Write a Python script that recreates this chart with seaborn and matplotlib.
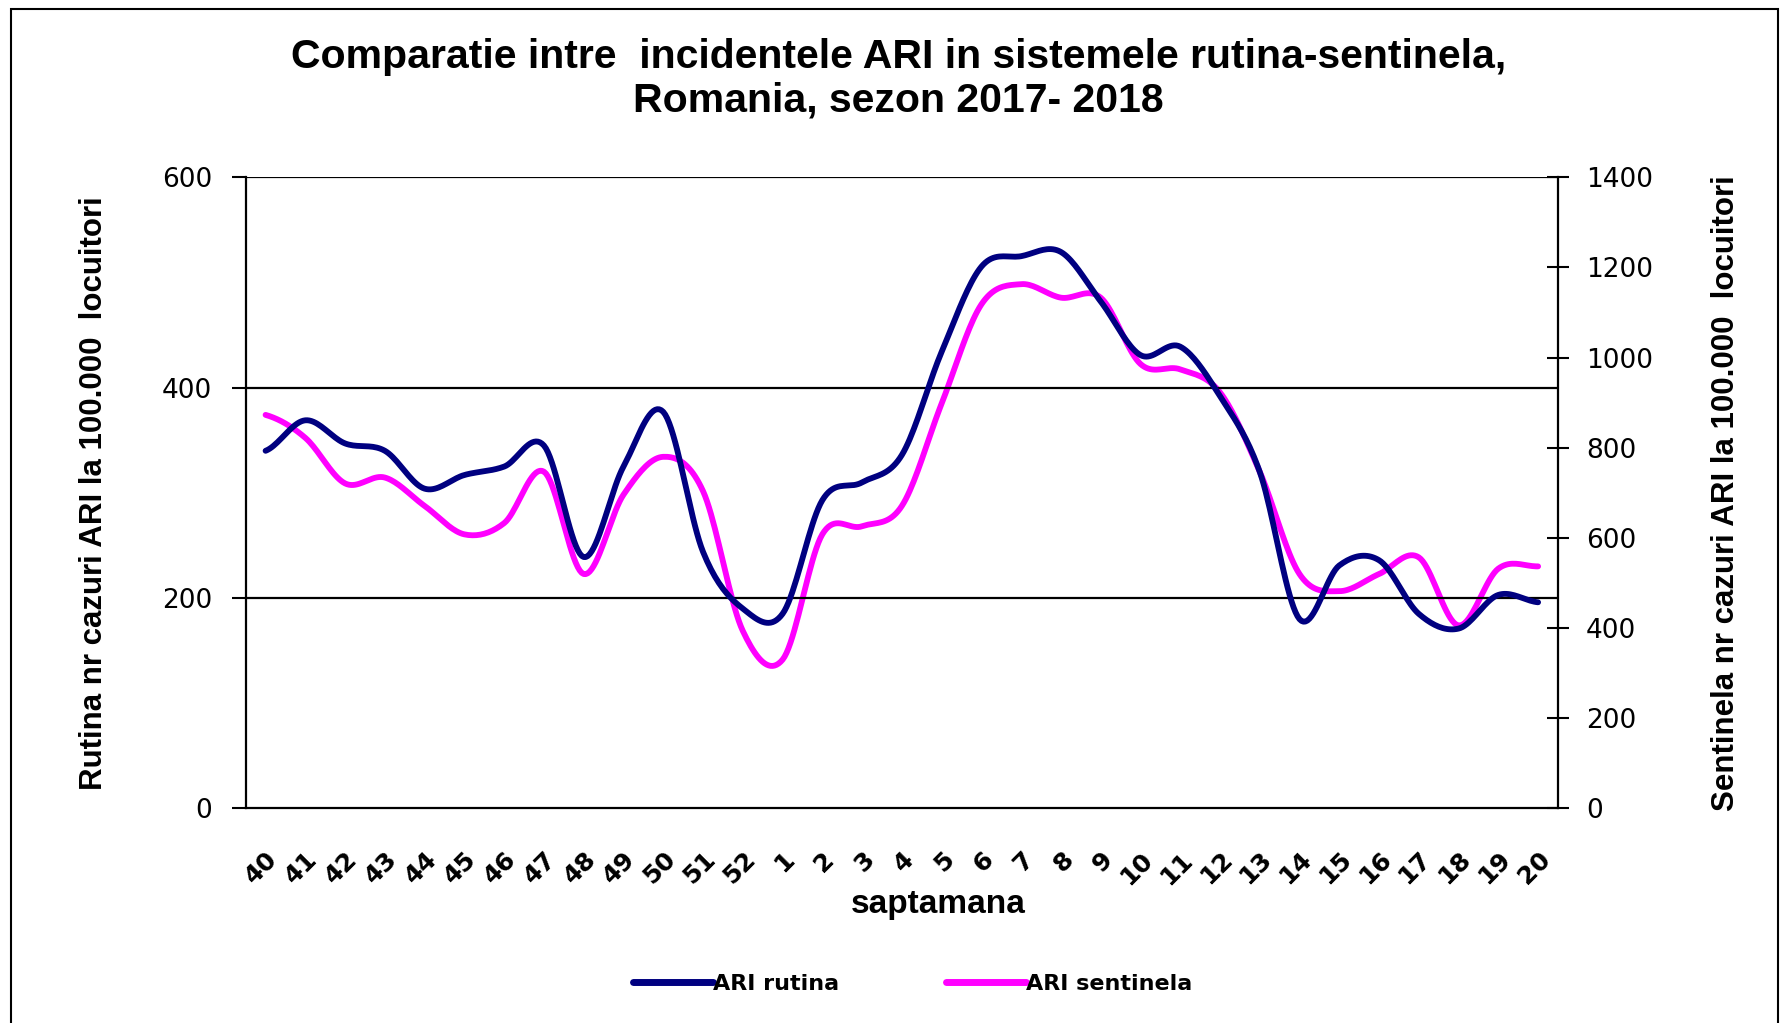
import numpy as np
import pandas as pd
import matplotlib
matplotlib.use('Agg')
import matplotlib.pyplot as plt
import seaborn as sns

# saptamani (sezon 2017-2018)
weeks = ['40', '41', '42', '43', '44', '45', '46', '47', '48', '49', '50', '51', '52',
         '1', '2', '3', '4', '5', '6', '7', '8', '9', '10', '11', '12', '13', '14',
         '15', '16', '17', '18', '19', '20']
# incidenta ARI rutina (axa stanga)
rutina = [340, 369, 347, 340, 304, 317, 325, 345, 239, 325, 377, 244, 190,
          185, 293, 310, 336, 434, 515, 525, 529, 482, 431, 439, 392, 320, 180,
          231, 236, 185, 171, 203, 196]
# incidenta ARI sentinela (axa dreapta)
sentinela = [873, 822, 721, 734, 671, 608, 633, 747, 520, 696, 780, 704, 394,
             330, 608, 626, 671, 898, 1118, 1163, 1133, 1133, 986, 974, 923, 747, 520,
             482, 520, 557, 406, 532, 537]

left_ticks = [0, 200, 400, 600]
right_ticks = [0, 200, 400, 600, 800, 1000, 1200, 1400]

NAVY = '#000080'
MAGENTA = '#FF00FF'


def smooth(y, n=20):
    # curba neteda tip Excel (Catmull-Rom) prin punctele citite
    y = np.asarray(y, float)
    p = np.concatenate([[y[0]], y, [y[-1]]])
    xs, ys = [], []
    for i in range(len(y) - 1):
        p0, p1, p2, p3 = p[i], p[i + 1], p[i + 2], p[i + 3]
        t = np.linspace(0, 1, n, endpoint=False)
        yy = 0.5 * (2 * p1 + (-p0 + p2) * t + (2 * p0 - 5 * p1 + 4 * p2 - p3) * t ** 2
                    + (-p0 + 3 * p1 - 3 * p2 + p3) * t ** 3)
        xs.append(i + t)
        ys.append(yy)
    xs.append([len(y) - 1])
    ys.append([y[-1]])
    return np.concatenate(xs), np.concatenate(ys)


sns.set_style('white')
plt.rcParams['font.family'] = ['Liberation Sans', 'DejaVu Sans']
plt.rcParams.update({'text.color': 'black', 'axes.labelcolor': 'black',
                     'xtick.color': 'black', 'ytick.color': 'black'})

fig = plt.figure(figsize=(17.83, 10.23), dpi=100)
ax = fig.add_axes([0.1378, 0.2097, 0.736, 0.617])
ax2 = ax.twinx()

xr, yr = smooth(rutina)
xs_, ys_ = smooth(sentinela)
sns.lineplot(x=xs_, y=ys_, ax=ax2, color=MAGENTA, lw=4.2, sort=False, legend=False)
sns.lineplot(x=xr, y=yr, ax=ax, color=NAVY, lw=4.2, sort=False, legend=False)
# linia rutina deasupra
ax.set_zorder(ax2.get_zorder() + 1)
ax.patch.set_visible(False)

n = len(weeks)
ax.set_xlim(-0.5, n - 0.5)
ax.set_ylim(0, 600)
ax2.set_ylim(0, 1400)

for v in [200, 400, 600]:
    ax.axhline(v, color='black', lw=1.6, zorder=0)

ax.set_yticks(left_ticks)
ax.set_yticklabels([str(t) for t in left_ticks], family='DejaVu Sans', fontsize=19)
ax2.set_yticks(right_ticks)
ax2.set_yticklabels([str(t) for t in right_ticks], family='DejaVu Sans', fontsize=19)

ax.set_xticks(range(n))
ax.set_xticklabels(weeks, rotation=45, ha='right', va='top', rotation_mode='anchor',
                   family='DejaVu Sans', fontsize=18, fontweight='bold')
ax.set_xticks(np.arange(-0.5, n, 1.0), minor=True)
ax.tick_params(axis='x', which='major', length=0, pad=28)
ax.tick_params(axis='x', which='minor', direction='inout', length=16, width=1.5, color='black')
ax.tick_params(axis='y', direction='out', length=10, width=1.5, color='black', pad=14, left=True)
ax2.tick_params(axis='y', direction='inout', length=16, width=1.5, color='black', pad=12, right=True)

for a in (ax, ax2):
    a.spines['top'].set_visible(False)
    for s in ['left', 'right', 'bottom']:
        a.spines[s].set_color('black')
        a.spines[s].set_linewidth(1.6)
ax.spines['right'].set_visible(False)
ax2.spines['left'].set_visible(False)
ax2.spines['bottom'].set_visible(False)

ax.set_xlabel('saptamana', fontsize=24, fontweight='bold', labelpad=0, x=0.528)
ax.set_ylabel('Rutina nr cazuri ARI la 100.000  locuitori', fontsize=22.5,
              fontweight='bold', labelpad=38)
ax2.set_ylabel('Sentinela nr cazuri ARI la 100.000  locuitori', fontsize=22.5,
               fontweight='bold', labelpad=42)

fig.text(0.504, 0.923, 'Comparatie intre  incidentele ARI in sistemele rutina-sentinela,\n'
         'Romania, sezon 2017- 2018', ha='center', va='center', fontsize=29.5,
         fontweight='bold', linespacing=1.2)

# legenda
handles = [plt.Line2D([], [], color=NAVY, lw=5), plt.Line2D([], [], color=MAGENTA, lw=5)]
fig.legend(handles, ['ARI rutina', 'ARI sentinela'], loc='center', bbox_to_anchor=(0.512, 0.038),
           ncol=2, frameon=False, handlelength=3.6, handletextpad=0.0, columnspacing=4.8,
           prop={'family': 'DejaVu Sans', 'size': 16, 'weight': 'bold'})

# chenar exterior
fig.patches.append(plt.Rectangle((0.006, -0.05), 0.991, 1.041, transform=fig.transFigure,
                                 fill=False, edgecolor='black', lw=1.5))

fig.savefig('out.png', dpi=100)
